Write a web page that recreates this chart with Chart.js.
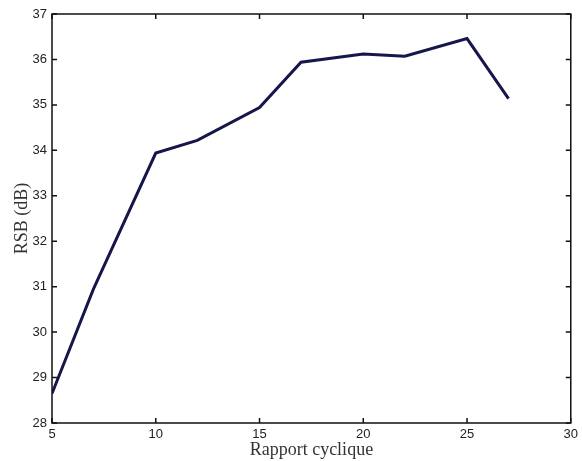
<!DOCTYPE html>
<html>
<head>
<meta charset="utf-8">
<script src="https://cdn.jsdelivr.net/npm/chart.js@4"></script>
<style>
  body { margin: 0; background: #fff; }
  #c { display: block; }
</style>
</head>
<body>
<canvas id="c" width="582" height="461"></canvas>
<script>
const rapportCyclique = [5, 7, 10, 12, 15, 17, 20, 22, 25, 27];
const rsb = [28.65, 30.95, 33.94, 34.22, 34.94, 35.94, 36.12, 36.07, 36.46, 35.14];
const xTicks = [5, 10, 15, 20, 25, 30];
const yTicks = [28, 29, 30, 31, 32, 33, 34, 35, 36, 37];

// cadre + graduations vers l'intérieur, style matlab
const boxTicks = {
  id: "boxTicks",
  afterDraw(chart) {
    const { ctx, chartArea: a, scales } = chart;
    ctx.save();
    ctx.strokeStyle = "#111";
    ctx.lineWidth = 1.5;
    ctx.strokeRect(a.left, a.top, a.right - a.left, a.bottom - a.top);
    ctx.beginPath();
    xTicks.forEach((v) => {
      const px = scales.x.getPixelForValue(v);
      ctx.moveTo(px, a.bottom); ctx.lineTo(px, a.bottom - 5);
      ctx.moveTo(px, a.top); ctx.lineTo(px, a.top + 5);
    });
    yTicks.forEach((v) => {
      const py = scales.y.getPixelForValue(v);
      ctx.moveTo(a.left, py); ctx.lineTo(a.left + 5, py);
      ctx.moveTo(a.right, py); ctx.lineTo(a.right - 5, py);
    });
    ctx.stroke();
    ctx.restore();
  }
};

new Chart(document.getElementById("c"), {
  type: "line",
  data: {
    datasets: [{
      data: rapportCyclique.map((x, i) => ({ x: x, y: rsb[i] })),
      borderColor: "#16164a",
      borderWidth: 3,
      pointRadius: 0,
      tension: 0,
      fill: false
    }]
  },
  options: {
    responsive: false,
    animation: false,
    layout: { padding: { top: 14, right: 11, left: 0, bottom: 0 } },
    plugins: { legend: { display: false }, tooltip: { enabled: false } },
    scales: {
      x: {
        type: "linear",
        min: 5, max: 30,
        afterBuildTicks: (s) => { s.ticks = xTicks.map((v) => ({ value: v })); },
        afterFit: (s) => { s.height = 38; },
        grid: { display: false, drawTicks: false },
        border: { display: false },
        ticks: { padding: 4, color: "#222", font: { family: "Liberation Sans", size: 13 } },
        title: {
          display: true, text: "Rapport cyclique", color: "#333",
          padding: { top: 0, bottom: 0 },
          font: { family: "Liberation Serif", size: 18 }
        }
      },
      y: {
        min: 28, max: 37,
        afterBuildTicks: (s) => { s.ticks = yTicks.map((v) => ({ value: v })); },
        afterFit: (s) => { s.width = 52; },
        grid: { display: false, drawTicks: false },
        border: { display: false },
        ticks: { padding: 5, color: "#222", font: { family: "Liberation Sans", size: 13 } },
        title: {
          display: true, text: "RSB (dB)", color: "#333",
          padding: { top: 11, bottom: 0 },
          font: { family: "Liberation Serif", size: 18 }
        }
      }
    }
  },
  plugins: [boxTicks]
});
</script>
</body>
</html>
